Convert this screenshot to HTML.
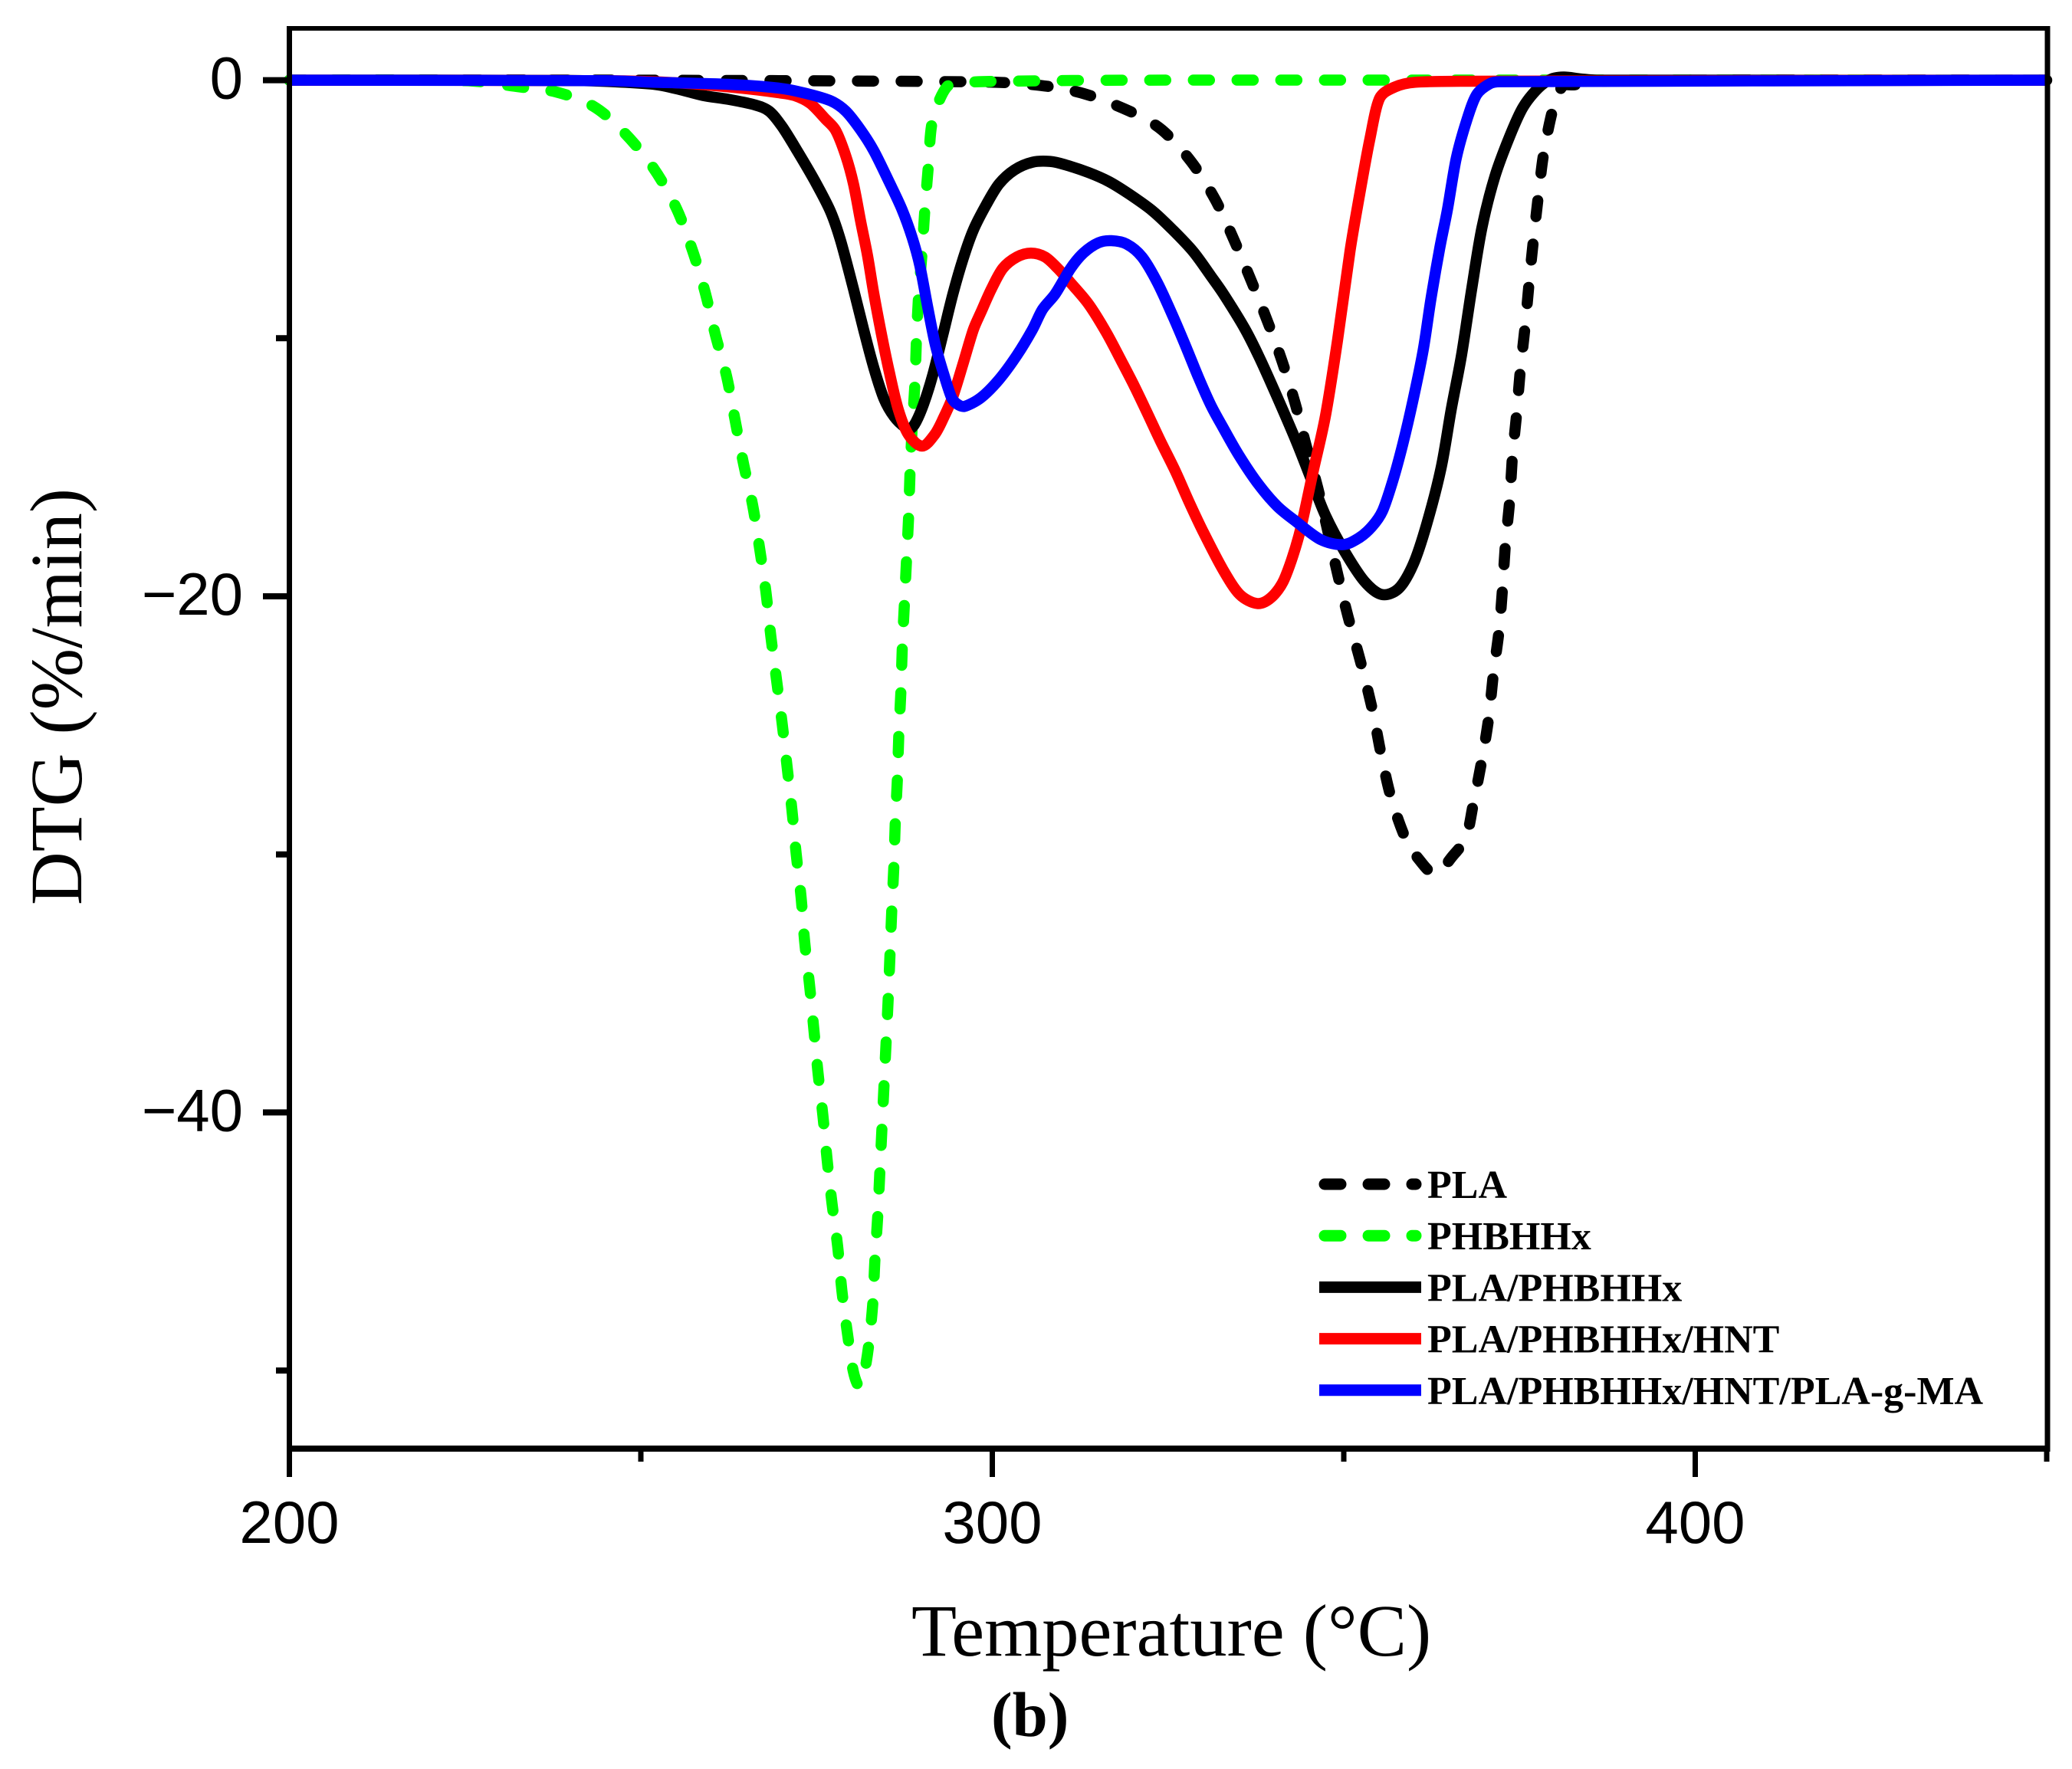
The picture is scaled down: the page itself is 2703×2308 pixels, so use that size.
<!DOCTYPE html>
<html lang="en">
<head>
<meta charset="utf-8">
<title>DTG curves</title>
<style>
html,body{margin:0;padding:0;background:#fff;}
svg{display:block;}
.sans{font-family:"Liberation Sans",sans-serif;}
.serif{font-family:"Liberation Serif",serif;}
</style>
</head>
<body>
<svg id="chart" xmlns="http://www.w3.org/2000/svg" width="2703" height="2308" viewBox="0 0 2703 2308">
<rect x="0" y="0" width="2703" height="2308" fill="#ffffff"/>
<g id="series-layer"></g>
<g id="axes-layer"></g>
<g id="legend-layer"></g>
<text class="serif" x="1189" y="2160" font-size="96.6" fill="#000">Temperature (°C)</text>
<text class="serif" transform="translate(106,1181) rotate(-90)" x="0" y="0" font-size="96.5" fill="#000">DTG (%/min)</text>
<text class="serif" x="1293" y="2265" font-size="83" font-weight="bold" fill="#000">(b)</text>
</svg>
<script>
const seriesNames = ['PLA', 'PHBHHx', 'PLA/PHBHHx', 'PLA/PHBHHx/HNT', 'PLA/PHBHHx/HNT/PLA-g-MA'];
const xMajorTicks = [200, 300, 400];
const xMinorTicks = [250, 350, 450];
const yMajorTicks = [0, -20, -40];
const yMinorTicks = [-10, -30, -50];

const plaTemps = [200,250,298.7,306.7,313,319.6,324.1,328.3,331.7,334.3,336.8,339.1,341.2,343.1,344.6,346.3,347.7,349.2,350.6,352.4,354.1,355.3,356.7,358.7,360.6,363,365.5,367.4,368.4,369.6,370.6,371.3,372.1,372.6,373,373.6,374,374.6,375.1,375.8,376.4,377,377.8,378.5,379.8,381.1,382.8,385.7,400,450];
const plaValues = [0,0,-0.07,-0.2,-0.52,-1.21,-1.92,-3.16,-4.62,-6.14,-7.75,-9.31,-10.87,-12.54,-14.11,-15.8,-17.44,-19.22,-20.78,-22.55,-24.43,-26.1,-27.77,-29.33,-30.16,-30.75,-30.06,-29.33,-28.08,-26.41,-24.74,-22.97,-21.3,-19.63,-17.97,-16.3,-14.57,-12.9,-11.29,-9.52,-7.75,-6.14,-4.2,-2.74,-1.07,-0.24,-0.18,-0.05,0,0];

const phbhhxTemps = [200,225,232.7,238,243.3,247.7,251.8,255,257.3,259.1,260.6,262.2,263.4,264.6,265.9,266.9,267.8,268.5,269.3,270.1,270.8,271.5,272.1,272.8,273.3,274,274.6,275.2,275.9,276.5,277.2,278,278.6,279.4,280.2,281,281.7,282.4,283,283.3,283.7,284,284.3,284.6,284.9,285.2,285.7,286,286.2,286.5,286.7,287,287.2,287.5,287.8,288.1,288.3,288.6,289,289.2,289.5,290,290.4,290.9,291.5,293.5,295.9,299.7,320,450];
const phbhhxValues = [0,-0.02,-0.26,-0.46,-1.02,-2.05,-3.41,-4.93,-6.56,-8.17,-9.86,-11.47,-13.16,-14.85,-16.46,-18.15,-19.84,-21.56,-23.23,-24.92,-26.59,-28.29,-29.98,-31.67,-33.37,-35.06,-36.74,-38.45,-40.12,-41.83,-43.53,-45.19,-46.9,-48.58,-50,-50.6,-50.2,-49.05,-47.39,-45.71,-44.02,-42.31,-40.62,-38.92,-37.23,-35.53,-32.15,-30.42,-28.73,-27.06,-25.36,-23.65,-21.95,-20.26,-18.56,-16.87,-15.17,-13.48,-11.71,-10.1,-8.41,-6.72,-5.03,-3.34,-1.56,-0.27,-0.1,-0.05,0,0];

const blendTemps = [200,240,251.5,255.2,258.8,262.4,266.1,268.25,270.1,272.25,274.8,277,278.4,280.25,281.7,283.15,284.6,286.05,287.6,288.4,289.15,290.24,291.5,292.96,294.4,295.87,297.3,299.15,300.96,303.14,305.7,308.23,310.4,313.7,316.6,319.5,322.77,325.7,328.6,331.1,332.8,335.9,338,340.4,343.2,345.3,347.4,350.2,353,355.4,357.8,359.9,361.8,363.85,365.3,366.75,368.2,369.66,371.5,373.66,375.5,377.66,379.5,381.3,383.7,386,450];
const blendValues = [0,-0.01,-0.15,-0.34,-0.59,-0.74,-0.95,-1.2,-1.8,-2.74,-3.93,-5.1,-6.2,-8.09,-9.67,-11.15,-12.35,-13.04,-13.45,-13.5,-13.24,-12.54,-11.45,-9.87,-8.28,-6.9,-5.81,-4.82,-4.02,-3.48,-3.18,-3.15,-3.28,-3.58,-3.93,-4.42,-5.06,-5.81,-6.65,-7.59,-8.25,-9.62,-10.75,-12.2,-13.97,-15.42,-16.87,-18.3,-19.44,-19.93,-19.7,-18.75,-17.2,-15.02,-12.74,-10.66,-8.09,-5.71,-3.73,-2.14,-1.05,-0.31,0.04,0.12,0.05,0,0];

const hntTemps = [200,245,255,263.9,269.7,271.9,274.1,276.25,277.7,279.15,280.25,281.3,282.25,283.15,284.25,285.3,286.6,288.06,290,291.8,293.14,294.4,295.87,297.3,298.4,299.87,301.5,303.5,305.5,307.5,309.3,311.1,313.7,316.2,318.4,320.2,322.05,323.86,326.04,328,330,332.8,335.2,337.7,339.7,341.5,343.6,345.7,347.4,349.1,350.9,352.2,353.67,355.1,357.3,360.2,367.5,450];
const hntValues = [0,-0.02,-0.1,-0.3,-0.49,-0.6,-0.9,-1.5,-1.94,-2.93,-4.02,-5.51,-6.8,-8.28,-9.87,-11.25,-12.74,-13.73,-14.18,-13.73,-13.04,-12.25,-10.96,-9.67,-8.98,-8.09,-7.29,-6.85,-6.7,-6.85,-7.29,-7.84,-8.68,-9.77,-10.9,-11.85,-12.9,-13.95,-15.15,-16.35,-17.5,-18.96,-19.93,-20.28,-20.04,-19.36,-17.67,-15.09,-13,-10.1,-6.6,-4.52,-2.34,-0.7,-0.26,-0.08,-0.04,0];

const compatTemps = [200,245,251.5,262.4,269.7,273.3,277,279.15,281.3,283.15,285.3,287.15,288.6,289.7,290.8,291.9,293.1,294.2,295,296.05,298.4,300.96,303.5,305.7,307.15,308.96,311.15,312.95,315.1,316.95,319.1,321.3,323.5,325.7,327.5,329.3,331.1,332.8,335,337.7,340.5,343.2,346.7,349.8,352.1,354,355.5,357,358.4,359.85,361.3,362.4,363.66,364.75,366,367.5,368.9,370.75,372.2,450];
const compatValues = [0,-0.02,-0.08,-0.16,-0.31,-0.5,-0.8,-1.2,-1.94,-2.74,-3.93,-5.01,-6.1,-7.2,-8.78,-10.26,-11.4,-12.3,-12.55,-12.64,-12.3,-11.6,-10.66,-9.67,-8.88,-8.28,-7.29,-6.7,-6.3,-6.22,-6.35,-6.85,-7.85,-9.15,-10.3,-11.5,-12.6,-13.45,-14.5,-15.6,-16.5,-17.1,-17.8,-18,-17.75,-17.3,-16.7,-15.5,-14.1,-12.4,-10.46,-8.48,-6.5,-5.01,-3.03,-1.55,-0.56,-0.14,-0.06,0];

const SVG_NS = 'http://www.w3.org/2000/svg';
const X0 = 377.5, X_PER_UNIT = 9.17;
const Y0 = 104.6, Y_PER_UNIT = 33.67;
function xScale(t) { return X0 + (t - 200) * X_PER_UNIT; }
function yScale(v) { return Y0 - v * Y_PER_UNIT; }

function handle(from, to, segLen) {
  const dx = to[0] - from[0], dy = to[1] - from[1];
  const len = Math.hypot(dx, dy) || 1;
  const h = Math.min(len * 0.16, segLen * 0.35);
  return [dx / len * h, dy / len * h];
}
function curvePath(ts, vs) {
  const p = ts.map(function (t, i) { return [xScale(t), yScale(vs[i])]; });
  let d = 'M' + p[0][0].toFixed(2) + ' ' + p[0][1].toFixed(2);
  for (let i = 0; i < p.length - 1; i++) {
    const a = p[Math.max(i - 1, 0)], b = p[i], c = p[i + 1], e = p[Math.min(i + 2, p.length - 1)];
    const segLen = Math.hypot(c[0] - b[0], c[1] - b[1]);
    const h1 = handle(a, c, segLen), h2 = handle(b, e, segLen);
    const c1x = b[0] + h1[0], c1y = b[1] + h1[1];
    const c2x = c[0] - h2[0], c2y = c[1] - h2[1];
    d += 'C' + c1x.toFixed(2) + ' ' + c1y.toFixed(2) + ' ' + c2x.toFixed(2) + ' ' + c2y.toFixed(2) + ' ' + c[0].toFixed(2) + ' ' + c[1].toFixed(2);
  }
  return d;
}

function drawSeries(name, ts, vs, color, dashed) {
  const el = document.createElementNS(SVG_NS, 'path');
  
  
  el.setAttribute('d', curvePath(ts, vs));
  el.setAttribute('fill', 'none');
  el.setAttribute('stroke', color);
  el.setAttribute('stroke-width', '14.5');
  el.setAttribute('stroke-linejoin', 'round');
  if (dashed) {
    el.setAttribute('stroke-dasharray', '21 36');
    el.setAttribute('stroke-linecap', 'round');
  }
  document.getElementById('series-layer').appendChild(el);
}
drawSeries('curve-pla', plaTemps, plaValues, '#000000', true);
drawSeries('curve-phbhhx', phbhhxTemps, phbhhxValues, '#00ff00', true);
drawSeries('curve-pla-phbhhx', blendTemps, blendValues, '#000000', false);
drawSeries('curve-pla-phbhhx-hnt', hntTemps, hntValues, '#ff0000', false);
drawSeries('curve-pla-phbhhx-hnt-pla-g-ma', compatTemps, compatValues, '#0000ff', false);

function axisLine(name, x1, y1, x2, y2, w) {
  const el = document.createElementNS(SVG_NS, 'line');
  
  
  el.setAttribute('x1', x1);
  el.setAttribute('y1', y1);
  el.setAttribute('x2', x2);
  el.setAttribute('y2', y2);
  el.setAttribute('stroke', '#000');
  el.setAttribute('stroke-width', w);
  document.getElementById('axes-layer').appendChild(el);
}
function axisText(name, label, x, y, anchor) {
  const el = document.createElementNS(SVG_NS, 'text');
  
  
  el.setAttribute('class', 'sans');
  el.setAttribute('x', x);
  el.setAttribute('y', y);
  el.setAttribute('font-size', '78');
  el.setAttribute('text-anchor', anchor);
  el.textContent = label;
  document.getElementById('axes-layer').appendChild(el);
}
const plotTop = 37, plotBottom = 1890, plotRight = 2671;
axisLine('top-axis-line', X0 - 3.5, plotTop, plotRight + 3.5, plotTop, 6);
axisLine('right-axis-line', plotRight, plotTop, plotRight, plotBottom, 7);
axisLine('left-axis-line', X0, plotTop, X0, plotBottom, 7);
axisLine('bottom-axis-line', X0 - 3.5, plotBottom, plotRight + 3.5, plotBottom, 8);
xMajorTicks.forEach(function (t) {
  axisLine('x-tick-' + t, xScale(t), plotBottom, xScale(t), 1927, 7);
  axisText('x-tick-label-' + t, String(t), xScale(t), 2013, 'middle');
});
xMinorTicks.forEach(function (t) {
  axisLine('x-minor-tick-' + t, xScale(t), plotBottom, xScale(t), 1907, 7);
});
yMajorTicks.forEach(function (v) {
  axisLine('y-tick-' + v, 343, yScale(v), X0, yScale(v), 8);
  axisText('y-tick-label-' + v, String(v).replace('-', '\u2212'), 317, yScale(v) + 24, 'end');
});
yMinorTicks.forEach(function (v) {
  axisLine('y-minor-tick-' + v, 360, yScale(v), X0, yScale(v), 8);
});

const legendColors = ['#000000', '#00ff00', '#000000', '#ff0000', '#0000ff'];
const legendDashed = [true, true, false, false, false];
seriesNames.forEach(function (name, i) {
  const y = 1545 + i * 67.2;
  const line = document.createElementNS(SVG_NS, 'line');
  
  
  line.setAttribute('x1', legendDashed[i] ? 1728 : 1721);
  line.setAttribute('y1', y);
  line.setAttribute('x2', legendDashed[i] ? 1847 : 1854);
  line.setAttribute('y2', y);
  line.setAttribute('stroke', legendColors[i]);
  line.setAttribute('stroke-width', '15');
  if (legendDashed[i]) {
    line.setAttribute('stroke-dasharray', '21 36');
    line.setAttribute('stroke-linecap', 'round');
  }
  document.getElementById('legend-layer').appendChild(line);
  const label = document.createElementNS(SVG_NS, 'text');
  
  
  label.setAttribute('class', 'serif');
  label.setAttribute('x', 1862);
  label.setAttribute('y', y + 18);
  label.setAttribute('font-size', '52');
  label.setAttribute('font-weight', 'bold');
  label.textContent = name;
  document.getElementById('legend-layer').appendChild(label);
});
</script>
</body>
</html>
